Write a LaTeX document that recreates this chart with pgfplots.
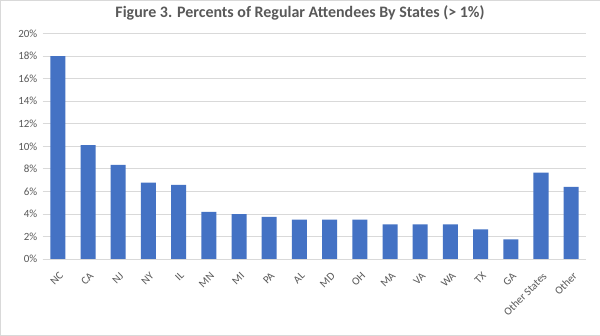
\documentclass[border=0pt]{standalone}
\usepackage{pgfplots}
\pgfplotsset{compat=1.18}
\usepackage{fontspec}
\setmainfont{Carlito}
\definecolor{bar}{HTML}{4472C4}
\definecolor{txt}{HTML}{595959}
\definecolor{grid}{HTML}{D9D9D9}
\begin{document}
\begin{tikzpicture}[x=1bp,y=1bp]
\draw[draw=grid, fill=white] (0.5,0.5) rectangle (599.5,335.5);
\node[font=\bfseries\fontsize{16}{18}\selectfont, text=txt] at (300,323) {Figure 3. Percents of Regular Attendees By States (> 1\%)};
\begin{axis}[
  at={(43bp,77bp)}, anchor=south west,
  scale only axis, width=543bp, height=225bp,
  xmin=-0.5, xmax=17.5, ymin=0, ymax=20,
  ytick={0,2,...,20},
  yticklabel={\pgfmathprintnumber{\tick}\%},
  /pgf/number format/assume math mode=true,
  xtick=data,
  xticklabels={NC,CA,NJ,NY,IL,MN,MI,PA,AL,MD,OH,MA,VA,WA,TX,GA,Other States,Other},
  xticklabel style={xshift=1bp, yshift=-11bp, rotate=45, anchor=north east, inner sep=1bp},
  ticklabel style={font=\fontsize{11}{13}\selectfont, text=txt},
  axis line style={draw=none},
  axis x line*=bottom,
  x axis line style={draw=grid, -},
  major tick length=0pt,
  ymajorgrids, grid style={draw=grid, line width=0.8pt},
  ybar, bar width=15bp,
  yticklabel style={xshift=-2bp},
]
\addplot[fill=bar, draw=none] coordinates {
(0,18.0) (1,10.1) (2,8.36) (3,6.78) (4,6.57) (5,4.18) (6,3.97) (7,3.73) (8,3.49) (9,3.49) (10,3.49) (11,3.08) (12,3.08) (13,3.08) (14,2.63) (15,1.74) (16,7.67) (17,6.4)};
\end{axis}
\end{tikzpicture}
\end{document}
